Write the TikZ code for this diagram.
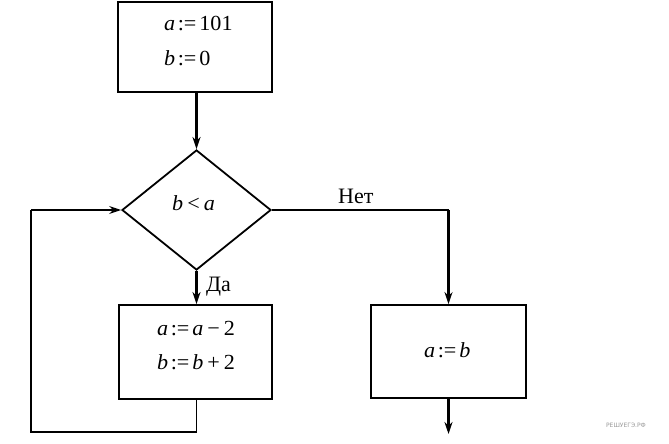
\documentclass[tikz,border=0pt]{standalone}
\usepackage{fontspec}
\setmainfont{Liberation Serif}
\newfontfamily\mfont{Liberation Serif}[FakeStretch=1.03]
\newfontfamily\wmfont{DejaVu Sans}
\usetikzlibrary{shapes.geometric,arrows.meta}
\newcommand{\va}[1]{\textit{#1}}
\newcommand{\asg}{\hspace{2.5pt}:=\hspace{3pt}}
\begin{document}
\begin{tikzpicture}[x=1pt,y=-1pt,
  blk/.style={draw,line width=1.8pt,rectangle,inner sep=0pt},
  cond/.style={draw,line width=1.8pt,diamond,inner sep=0pt,minimum width=149pt,minimum height=120pt},
  txt/.style={font=\mfont\fontsize{21.5}{22}\selectfont,inner sep=0pt,anchor=base west},
  flow/.style={line width=1.8pt},
  arr/.style={line width=2.6pt,-{Stealth[length=12pt,width=8pt]}},
  lbl/.style={font=\fontsize{22}{24}\selectfont,inner sep=0pt,anchor=base west}]
\useasboundingbox (0,0) rectangle (669,444);
\node[blk,minimum width=154pt,minimum height=90pt] (init) at (195,47) {};
\node[cond] (test) at (196.5,210) {};
\node[blk,minimum width=153pt,minimum height=94pt] (body) at (195.5,352) {};
\node[blk,minimum width=155pt,minimum height=93pt] (fin) at (448.5,351.5) {};
\node[txt] (t1) at (164,31) {\va{a}\asg 101};
\node[txt] (t2) at (164,66) {\va{b}\asg 0};
\node[txt] (t3) at (172,210) {\va{b}\hspace{4pt}<\hspace{4pt}\va{a}};
\node[txt] (t4) at (157,335) {\va{a}\asg\va{a}\hspace{4pt}−\hspace{4pt}2};
\node[txt] (t5) at (157,369) {\va{b}\asg\va{b}\hspace{4pt}+\hspace{4pt}2};
\node[txt] (t6) at (424,357) {\va{a}\asg\va{b}};
\coordinate (lb) at (196.5,432);
\coordinate (ll) at (31,432);
\coordinate (lt) at (31,210);
\coordinate (rt) at (448.5,210);
\coordinate (out) at (448.5,434);
\draw[arr] (init.south -| test.north) -- (test.north);
\draw[arr] (test.south) -- (test.south |- body.north);
\draw[flow] (test.south |- body.south) -- (lb) -- (ll) -- (lt);
\draw[flow,-{Stealth[length=12pt,width=8pt]}] (lt) -- (test.west);
\draw[flow] (test.east) -- (rt);
\draw[arr] (rt) -- (fin.north);
\draw[arr] (fin.south) -- (out);
\node[lbl] (yes) at (206,291) {Да};
\node[lbl] (no) at (338,203) {Нет};
\node[font=\wmfont\fontsize{6}{7}\selectfont,text=black!40,inner sep=0pt] (wm) at (626,425) {РЕШУЕГЭ.РФ};
\end{tikzpicture}
\end{document}
